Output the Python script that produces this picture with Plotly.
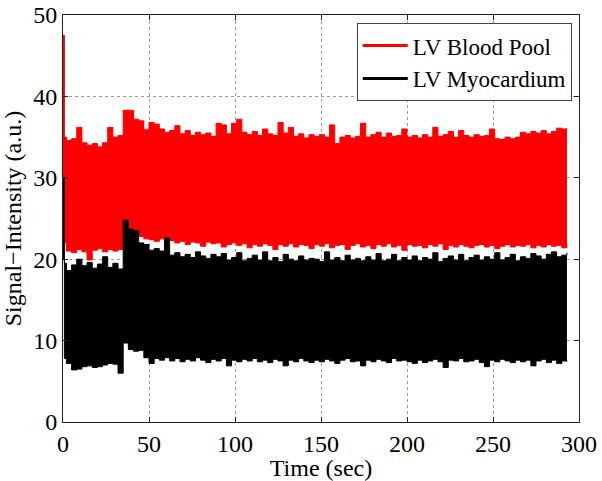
import plotly.graph_objects as go

# Time samples (sec)
time_s = [0, 0.8] + list(range(2, 294, 3))

# LV Blood Pool envelope (upper / lower), a.u.
blood_upper = [
    47.5, 35.0, 34.6, 34.8, 36.2, 34.3, 34.0, 34.2, 33.8, 34.3,
    36.2, 35.0, 35.2, 38.3, 38.3, 37.2, 37.0, 35.9, 36.8, 36.6,
    36.0, 35.6, 35.8, 36.4, 35.4, 35.8, 35.2, 35.6, 35.3, 35.5,
    35.1, 36.7, 36.5, 35.4, 36.7, 37.2, 35.6, 35.3, 35.7, 35.2,
    36.0, 35.4, 35.2, 36.8, 35.5, 36.2, 35.1, 35.4, 34.9, 35.3,
    35.1, 35.3, 35.0, 36.5, 34.2, 35.0, 35.2, 34.9, 35.1, 36.7,
    35.0, 35.3, 35.6, 35.0, 35.5, 35.1, 35.2, 36.0, 35.0, 35.2,
    34.9, 35.3, 35.0, 36.2, 35.1, 35.3, 35.7, 35.0, 35.8, 35.2,
    35.0, 35.3, 35.1, 35.2, 36.0, 34.8, 34.7, 35.0, 34.8, 35.0,
    35.6, 35.4, 35.7, 35.5, 35.8, 35.4, 35.7, 36.1, 36.0, 36.1,
]
blood_lower = [
    30.0, 22.0, 21.0, 20.8, 21.2, 20.9, 19.9, 21.1, 21.3, 20.9,
    21.2, 21.0, 21.2, 24.6, 23.4, 23.1, 22.8, 22.5, 22.4, 22.2,
    22.5, 22.1, 22.3, 22.0, 22.2, 21.8, 22.1, 22.0, 21.6, 22.1,
    21.9, 22.0, 21.5, 21.8, 22.0, 21.7, 21.9, 21.4, 21.8, 21.6,
    21.9, 21.7, 21.2, 21.8, 21.6, 21.9, 21.5, 21.8, 21.7, 21.3,
    21.8, 21.6, 21.9, 21.4, 21.7, 21.8, 21.2, 21.7, 21.9, 21.5,
    21.7, 21.3, 21.8, 21.6, 21.9, 21.5, 21.7, 21.1, 21.8, 21.6,
    21.7, 21.4, 21.8, 21.6, 21.9, 21.2, 21.7, 21.5, 21.8, 21.6,
    21.4, 21.7, 21.8, 21.5, 21.7, 21.3, 21.6, 21.8, 21.5, 21.7,
    21.6, 21.8, 21.4, 21.7, 21.5, 21.8, 21.6, 21.7, 21.4, 21.8,
]

# LV Myocardium envelope (upper / lower), a.u.
myo_upper = [
    30.0, 19.5, 18.6, 19.3, 20.0, 19.2, 19.6, 18.9, 19.4, 20.3,
    19.0, 19.5, 18.8, 24.8, 23.7, 23.5, 22.0, 21.8, 21.1, 21.3,
    21.0, 22.6, 20.5, 20.8, 20.3, 20.6, 20.2, 20.9, 20.4, 20.1,
    20.6, 20.3, 20.7, 19.9, 20.2, 20.8, 19.8, 20.1, 20.5, 19.9,
    20.9, 19.8, 20.2, 19.7, 20.6, 20.0, 19.8, 20.4, 19.9, 20.1,
    20.0, 19.7, 20.9, 19.9, 20.2, 19.8, 20.5, 19.9, 20.1, 19.8,
    20.3, 19.9, 20.7, 19.8, 20.0, 20.6, 19.8, 20.2, 19.9, 20.4,
    19.8, 20.2, 20.0, 20.8, 19.7, 20.1, 20.4, 19.9, 20.6, 19.8,
    20.2, 20.5, 19.9, 20.3, 20.0, 20.8, 19.9, 20.2, 20.6, 19.8,
    20.3, 20.1, 20.7, 20.4, 20.0, 20.6, 20.9, 20.3, 20.5, 20.8,
]
myo_lower = [
    20.0, 7.8, 7.2, 6.4, 6.5, 6.8, 6.9, 6.7, 6.8, 7.0,
    7.2, 7.1, 6.0, 9.7, 8.9, 8.7, 8.8, 7.9, 7.2, 7.8,
    7.6, 7.9, 7.5, 7.8, 7.4, 7.7, 7.5, 7.9, 7.6, 7.3,
    7.7, 7.5, 7.8, 6.9, 7.6, 7.4, 7.7, 7.5, 7.8, 7.4,
    7.6, 7.3, 7.7, 7.5, 6.9, 7.6, 7.4, 7.8, 7.5, 7.3,
    7.6, 7.4, 7.7, 7.5, 7.2, 7.6, 7.8, 7.4, 7.5, 6.9,
    7.6, 7.4, 7.7, 7.5, 7.3, 7.8, 7.5, 7.6, 7.4, 7.2,
    7.6, 7.3, 7.5, 7.7, 7.4, 6.7, 7.6, 7.5, 7.8, 7.4,
    7.5, 7.7, 7.3, 6.8, 7.6, 7.4, 7.7, 7.5, 7.3, 7.6,
    7.4, 7.6, 6.9, 7.5, 7.7, 7.3, 7.6, 7.2, 7.5, 7.4,
]

series_names = ["LV Blood Pool", "LV Myocardium"]
x_ticks = [0, 50, 100, 150, 200, 250, 300]
y_ticks = [0, 10, 20, 30, 40, 50]

RED = "#ff0000"
BLACK = "#000000"
FONT = "Liberation Serif, Times New Roman, serif"

fig = go.Figure()

for lower, upper, color in [(blood_lower, blood_upper, RED), (myo_lower, myo_upper, BLACK)]:
    fig.add_trace(go.Scatter(x=time_s, y=lower, mode="lines",
                             line=dict(color=color, width=1, shape="hv"),
                             showlegend=False, hoverinfo="skip"))
    fig.add_trace(go.Scatter(x=time_s, y=upper, mode="lines", fill="tonexty",
                             fillcolor=color,
                             line=dict(color=color, width=1, shape="hv"),
                             showlegend=False, hoverinfo="skip"))

# legend entries (line samples)
for name, color in zip(series_names, [RED, BLACK]):
    fig.add_trace(go.Scatter(x=[None], y=[None], mode="lines", name=name,
                             line=dict(color=color, width=3)))

axis_common = dict(
    showline=True, linecolor="#222222", linewidth=1, mirror="allticks",
    ticks="inside", ticklen=5, tickcolor="#222222",
    showgrid=True, gridcolor="#9a9a9a", griddash="dot", gridwidth=1,
    zeroline=False, tickfont=dict(family=FONT, size=24, color="black"),
    ticklabeloverflow="allow",
)

fig.update_layout(
    width=602, height=481,
    margin=dict(l=63, r=23, t=15, b=59),
    paper_bgcolor="white", plot_bgcolor="white",
    font=dict(family=FONT, size=24, color="black"),
    xaxis=dict(range=[0, 300], tickvals=x_ticks,
               title=dict(text="Time (sec)", font=dict(family=FONT, size=24), standoff=2),
               automargin=False, **axis_common),
    yaxis=dict(range=[0, 50], tickvals=y_ticks,
               title=dict(text="Signal\u2212Intensity (a.u.)", font=dict(family=FONT, size=24), standoff=4),
               automargin=False, **axis_common),
    legend=dict(x=0.986, y=0.980, xanchor="right", yanchor="top",
                bgcolor="white", bordercolor="#444444", borderwidth=1,
                font=dict(family=FONT, size=23, color="black"),
                itemwidth=45, tracegroupgap=0, traceorder="normal"),
    showlegend=True,
)

# remove the page's default 8px body margin so the 602x481 figure fills the window
fig.write_html("out.html", config={"displayModeBar": False},
               post_script="document.body.style.margin='0px';")
